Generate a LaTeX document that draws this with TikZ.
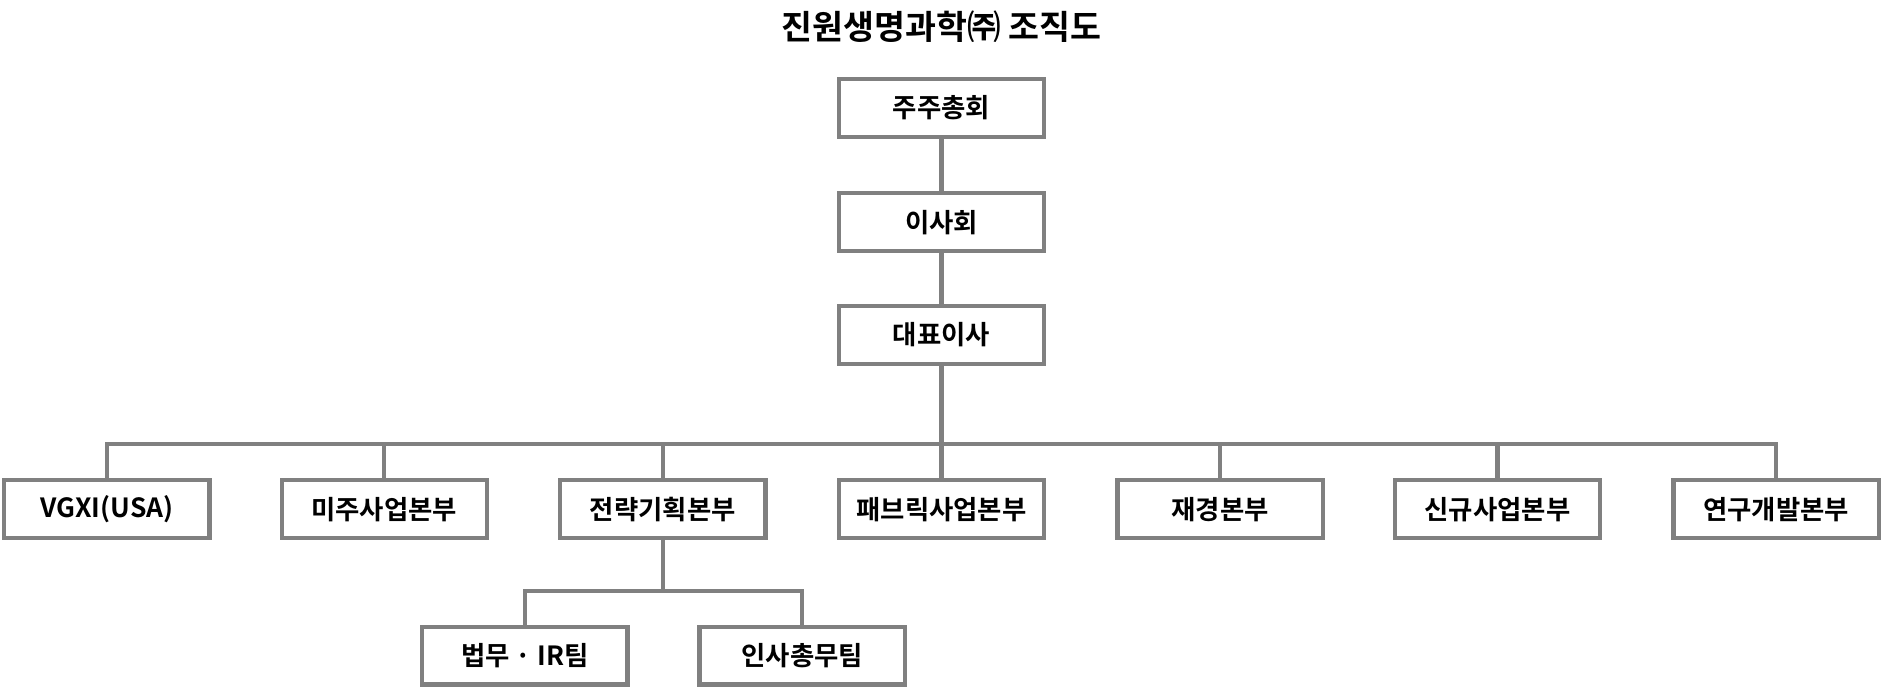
\documentclass[tikz,border=0pt]{standalone}
\usepackage{fontspec}
\setmainfont{Noto Sans CJK KR}[BoldFont={* Bold}]
\usetikzlibrary{positioning}
\tikzset{
  orgbox/.style={draw=linegray, line width=3.5pt, minimum width=171pt, minimum height=48pt,
    inner sep=0pt, font=\fontsize{22}{26}\selectfont\bfseries},
  orgline/.style={draw=linegray, line width=3.5pt}
}
\definecolor{linegray}{RGB}{128,128,128}
\begin{document}
\begin{tikzpicture}[x=1pt,y=-1pt]
  \useasboundingbox (0,0) rectangle (1568,573);
  \node [font=\fontsize{28}{32}\selectfont\bfseries] (title) at (784,22) {진원생명과학㈜ 조직도};

  \node [orgbox] (meeting) at (784,90) {주주총회};
  \node [orgbox] (board) at (784,185) {이사회};
  \node [orgbox] (ceo) at (784,279) {대표이사};

  \node [orgbox] (vgxi) at (89,424) {VGXI(USA)};
  \node [orgbox] (usa) at (320,424) {미주사업본부};
  \node [orgbox] (strategy) at (552,424) {전략기획본부};
  \node [orgbox] (fabric) at (784,424) {패브릭사업본부};
  \node [orgbox] (finance) at (1016,424) {재경본부};
  \node [orgbox] (newbiz) at (1247,424) {신규사업본부};
  \node [orgbox] (rnd) at (1479,424) {연구개발본부};

  \node [orgbox] (legal) at (437,546) {법무 · IR팀};
  \node [orgbox] (hr) at (668,546) {인사총무팀};

  \coordinate (bus) at (784,370);
  \coordinate (subbus) at (552,492);

  \draw [orgline] (meeting) -- (board);
  \draw [orgline] (board) -- (ceo);
  \draw [orgline] (ceo) -- (bus);
  \draw [orgline] (vgxi.north) |- (bus) -| (rnd.north);
  \foreach \n in {usa,strategy,fabric,finance,newbiz}
    \draw [orgline] (\n.north) -- (\n.north |- bus);

  \draw [orgline] (strategy) -- (subbus);
  \draw [orgline] (legal.north) |- (subbus) -| (hr.north);
\end{tikzpicture}
\end{document}
